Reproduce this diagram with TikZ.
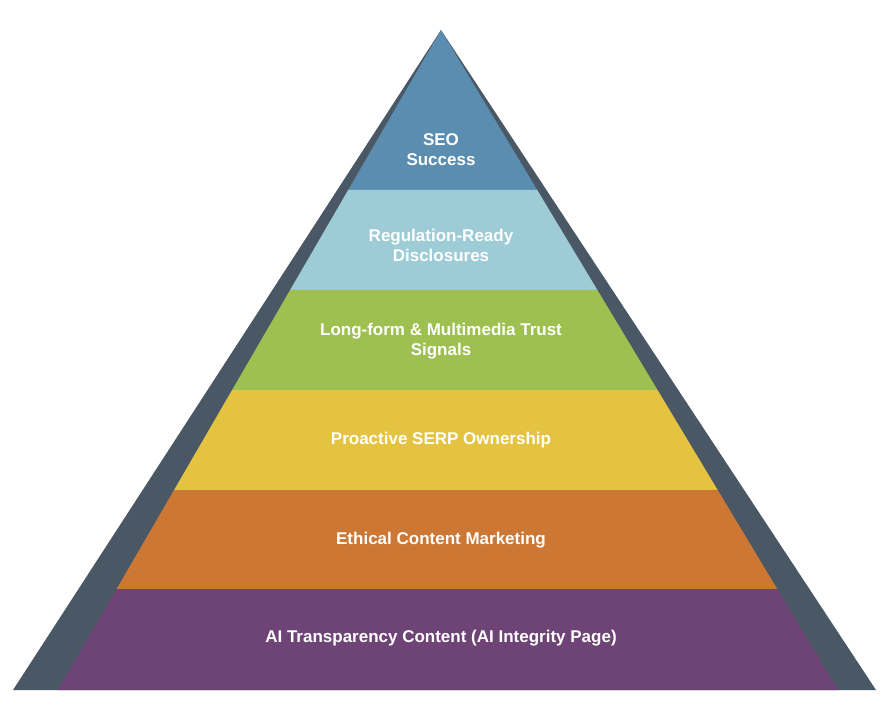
\documentclass[tikz,border=0pt]{standalone}
\usepackage{fontspec}
\setmainfont{Liberation Sans}
\usetikzlibrary{calc}
\definecolor{shadow}{HTML}{4A5866}
\definecolor{tierA}{HTML}{5B8DB0}
\definecolor{tierB}{HTML}{9DCBD6}
\definecolor{tierC}{HTML}{9DC050}
\definecolor{tierD}{HTML}{E3C340}
\definecolor{tierE}{HTML}{CD7735}
\definecolor{tierF}{HTML}{6E4476}
\tikzset{
  tier label/.style={text=white, font=\fontsize{17}{20}\selectfont\bfseries, align=center}
}
\begin{document}
\begin{tikzpicture}[x=1pt, y=-1pt]
  \useasboundingbox (0,0) rectangle (887,718);
  % apex and the two bases
  \coordinate (apex) at (441,30);
  \coordinate (sl) at (13,690);
  \coordinate (sr) at (876,690);
  \coordinate (bl) at (58,690);
  \coordinate (br) at (838,690);

  % dark back face
  \fill[shadow] (apex) -- (sl) -- (sr) -- cycle;

  % tiers: colour / upper fraction / lower fraction
  \fill[tierA] (apex) -- ($(apex)!0.2424!(bl)$) -- ($(apex)!0.2424!(br)$) -- cycle;
  \foreach \c/\a/\b in {tierB/0.2424/0.3939, tierC/0.3939/0.5455, tierD/0.5455/0.697,
                        tierE/0.697/0.847, tierF/0.847/1} {
    \fill[\c] ($(apex)!\a!(bl)$) -- ($(apex)!\b!(bl)$) -- ($(apex)!\b!(br)$) -- ($(apex)!\a!(br)$) -- cycle;
  }

  % labels
  \node[tier label] (seo) at (441,150) {SEO\\Success};
  \node[tier label] (reg) at (441,245) {Regulation-Ready\\Disclosures};
  \node[tier label] (long) at (441,341) {Long-form \& Multimedia Trust\\Signals};
  \node[tier label] (serp) at (441,440) {Proactive SERP Ownership};
  \node[tier label] (ethic) at (441,540) {Ethical Content Marketing};
  \node[tier label] (ai) at (441,638) {AI Transparency Content (AI Integrity Page)};
\end{tikzpicture}
\end{document}
